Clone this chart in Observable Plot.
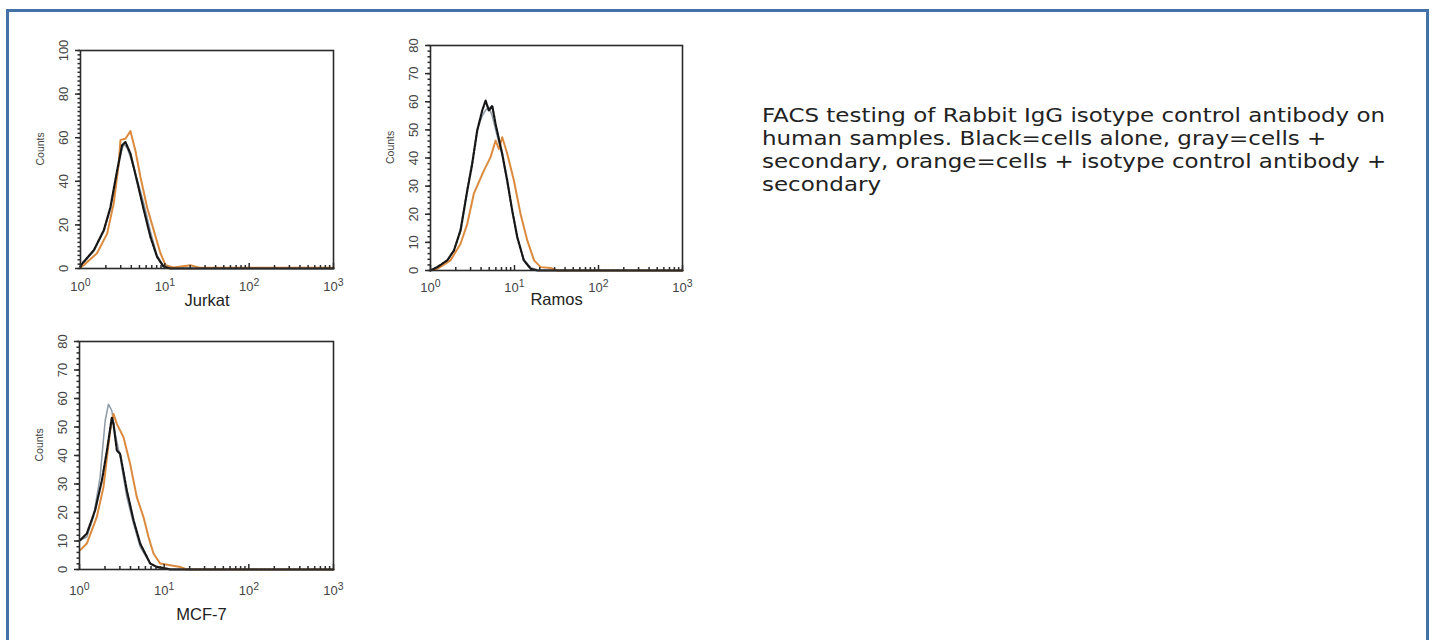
<!DOCTYPE html>
<html>
<head>
<meta charset="utf-8">
<script src="https://cdn.jsdelivr.net/npm/d3@7"></script>
<script src="https://cdn.jsdelivr.net/npm/@observablehq/plot@0.6"></script>
<style>
  html, body { margin: 0; padding: 0; background: #fff; overflow: hidden; width: 1435px; height: 640px; }
  #frame { position: absolute; left: 6px; top: 9px; width: 1417px; height: 700px; border: 3px solid #4372a8; }
  .panel { position: absolute; }
  #caption { position: absolute; left: 762px; top: 104px; font-family: "DejaVu Sans", sans-serif; font-size: 20px; line-height: 23px; color: #222; white-space: nowrap; transform-origin: 0 0; }
  #caption span { display: block; }
</style>
</head>
<body>
<div id="frame"></div>
<div id="p1" class="panel" style="left:20px;top:30px"></div>
<div id="p2" class="panel" style="left:370px;top:25px"></div>
<div id="p3" class="panel" style="left:19px;top:321px"></div>
<div id="caption"><span id="cap1">FACS testing of Rabbit IgG isotype control antibody on</span><span>human samples. Black=cells alone, gray=cells +</span><span>secondary, orange=cells + isotype control antibody +</span><span>secondary</span></div>
<script>
// ---- tick values ----
const xMajor = [1, 10, 100, 1000];
const xMajorExp = ["0", "1", "2", "3"];
const xMinor = [2, 3, 4, 5, 6, 7, 8, 9, 20, 30, 40, 50, 60, 70, 80, 90, 200, 300, 400, 500, 600, 700, 800, 900];
const yTicks100 = [0, 20, 40, 60, 80, 100];
const yTicks80 = [0, 10, 20, 30, 40, 50, 60, 70, 80];

// ---- Jurkat: [intensity, counts] ----
const jurkatBlack = [[1.0,1],[1.05,2.3],[1.44,8.4],[1.89,17.6],[2.26,28],[2.72,45],[3.11,56.5],[3.41,58],[3.91,52.7],[4.69,40],[5.62,27],[6.75,14.5],[8.09,5.3],[9.7,0.8],[11.6,0],[1000,0]];
const jurkatGray = [[1.0,1],[1.05,2],[1.44,8],[1.89,17],[2.26,27],[2.72,44],[3.11,55],[3.3,57],[3.6,55],[3.91,51],[4.69,41],[5.62,30],[6.75,17],[8.09,6],[9.7,1],[11.6,0.2],[1000,0]];
const jurkatOrange = [[1.0,0.5],[1.09,1.5],[1.57,7],[2.07,16],[2.48,30],[2.84,48],[2.98,59],[3.41,59.5],[3.91,63],[4.48,54],[5.14,42],[6.17,28],[7.39,17.5],[8.87,7],[10.2,1.5],[12.7,0.5],[20.1,1.5],[26.4,0.3],[1000,0.3]];

// ---- Ramos ----
const ramosBlack = [[1.0,0],[1.2,1.2],[1.58,3.6],[1.9,7.1],[2.28,14.2],[2.74,28.4],[3.14,37.9],[3.6,49.8],[4.13,56.9],[4.53,60.4],[4.95,56.9],[5.43,58.6],[5.96,52],[7.14,41.5],[8.2,32],[9.4,21.3],[10.8,11.8],[12.9,3.6],[15.6,0.6],[18.7,0],[1000,0]];
const ramosGray = [[1.0,0],[1.2,1],[1.58,3.5],[1.9,7],[2.28,15],[2.74,29],[3.14,39],[3.6,50],[4.13,55],[4.53,57],[4.95,58],[5.43,55],[5.96,50],[7.14,41],[8.2,31],[9.4,21],[10.8,12],[12.9,4],[15.6,1],[18.7,0.3],[1000,0]];
const ramosOrange = [[1.0,0.3],[1.2,0.6],[1.73,3.6],[2.28,9.5],[2.74,16.6],[3.28,27.3],[4.32,35.5],[5.19,40.3],[5.96,46.2],[6.52,43.2],[7.14,47.4],[8.2,41.5],[9.84,32],[11.8,20.1],[14.2,10.7],[17.1,3.6],[20.5,1.2],[26.9,0.9],[32.3,0],[1000,0]];

// ---- MCF-7 ----
const mcfBlack = [[1.02,10.3],[1.22,12.6],[1.53,20.8],[1.84,31.3],[2.14,42.9],[2.41,53.4],[2.52,51.1],[2.76,41.8],[3.02,40.6],[3.62,27.8],[4.35,17.3],[5.21,9.1],[6.84,2.1],[8.18,0.9],[9.64,0.6],[11.8,0],[1000,0]];
const mcfGray = [[1.02,10.3],[1.22,11.4],[1.46,18.4],[1.75,32.4],[2.01,52.2],[2.2,58],[2.41,55.7],[2.64,47.6],[3.02,39.4],[3.62,25.4],[4.35,16],[5.21,7.9],[6.84,2.1],[8.18,0.9],[10,0.3],[1000,0]];
const mcfOrange = [[1.02,6.8],[1.22,9.1],[1.6,18.4],[1.92,28.9],[2.3,48.7],[2.52,54.6],[2.76,51.1],[3.31,46.4],[3.96,37.1],[4.75,25.4],[5.7,18.4],[6.53,11.4],[7.48,5.6],[8.97,2.1],[11.8,1.5],[15.5,0.9],[18.5,0],[1000,0]];

const panels = [
  {id: "p1", name: "Jurkat", black: jurkatBlack, gray: jurkatGray, orange: jurkatOrange, yMax: 100, yTicks: yTicks100,
   width: 330, height: 290, mL: 60, mR: 17, mT: 20, mB: 52, labelDy: 37, labelDx: 0, xLabDy: 22},
  {id: "p2", name: "Ramos", black: ramosBlack, gray: ramosGray, orange: ramosOrange, yMax: 80, yTicks: yTicks80,
   width: 330, height: 290, mL: 60, mR: 18, mT: 20, mB: 45, labelDy: 34, labelDx: 0, xLabDy: 21},
  {id: "p3", name: "MCF-7", black: mcfBlack, gray: mcfGray, orange: mcfOrange, yMax: 80, yTicks: yTicks80,
   width: 331, height: 320, mL: 60, mR: 17, mT: 20, mB: 72, labelDy: 50, labelDx: -5, xLabDy: 25}
];

for (const p of panels) {
  const innerH = p.height - p.mT - p.mB;
  const chart = Plot.plot({
    width: p.width, height: p.height,
    marginLeft: p.mL, marginRight: p.mR, marginTop: p.mT, marginBottom: p.mB,
    style: {fontFamily: "'Liberation Sans', Arial, sans-serif", background: "transparent", overflow: "visible"},
    x: {type: "log", domain: [1, 1000], axis: null},
    y: {domain: [0, p.yMax], axis: null},
    marks: [
      Plot.line(p.gray, {x: d => d[0], y: d => d[1], stroke: "#8e9ba6", strokeWidth: 1.5}),
      Plot.line(p.orange, {x: d => d[0], y: d => d[1], stroke: "#dc8a3e", strokeWidth: 2}),
      Plot.line(p.black, {x: d => d[0], y: d => d[1], stroke: "#161616", strokeWidth: 2.2, strokeDasharray: "3 1.3"}),
      Plot.frame({stroke: "#2b2b2b", strokeWidth: 1.6}),
      Plot.axisY(d3.range(0, p.yMax + 1, 2), {tickSize: 2.5, tickFormat: () => "", stroke: "#2b2b2b", strokeWidth: 1.5, label: null}),
      Plot.axisY(p.yTicks, {tickSize: 5, tickFormat: () => "", stroke: "#2b2b2b", strokeWidth: 1.5, label: null}),
      Plot.tickX(xMinor, {x: d => d, insetTop: innerH - 3, stroke: "#2b2b2b", strokeWidth: 1.5}),
      Plot.tickX(xMajor, {x: d => d, insetTop: innerH - 5, stroke: "#2b2b2b", strokeWidth: 1.5}),
      Plot.text(p.yTicks, {y: d => d, frameAnchor: "left", text: d => String(d), rotate: -90, dx: -17, fontSize: 13, fill: "#444", textAnchor: "middle"}),
      Plot.text(["Counts"], {frameAnchor: "left", text: d => d, rotate: -90, dx: -40, dy: 6, fontSize: 10.5, fill: "#444"}),
      Plot.text(xMajor, {x: d => d, frameAnchor: "bottom", text: (d, i) => "10|" + xMajorExp[i], dy: p.xLabDy, fontSize: 13, fill: "#444", className: "xlab"}),
      Plot.text([p.name], {frameAnchor: "bottom", text: d => d, dy: p.labelDy, dx: p.labelDx, fontSize: 16.5, fill: "#222"})
    ]
  });
  // superscript exponents on the x tick labels
  d3.select(chart).selectAll(".xlab text").each(function () {
    const parts = this.textContent.split("|");
    const t = d3.select(this).text(parts[0]);
    t.append("tspan").attr("dy", "-0.45em").attr("font-size", "10.5").text(parts[1]);
  });
  document.getElementById(p.id).appendChild(chart);
}

// fit caption's first line to the reference's measured width
const cap = document.getElementById("caption");
const w = document.getElementById("cap1").getBoundingClientRect().width;
const spanW = document.getElementById("cap1");
const range = document.createRange();
range.selectNodeContents(spanW);
const textW = range.getBoundingClientRect().width;
cap.style.transform = `scaleX(${623 / textW})`;
</script>
</body>
</html>
